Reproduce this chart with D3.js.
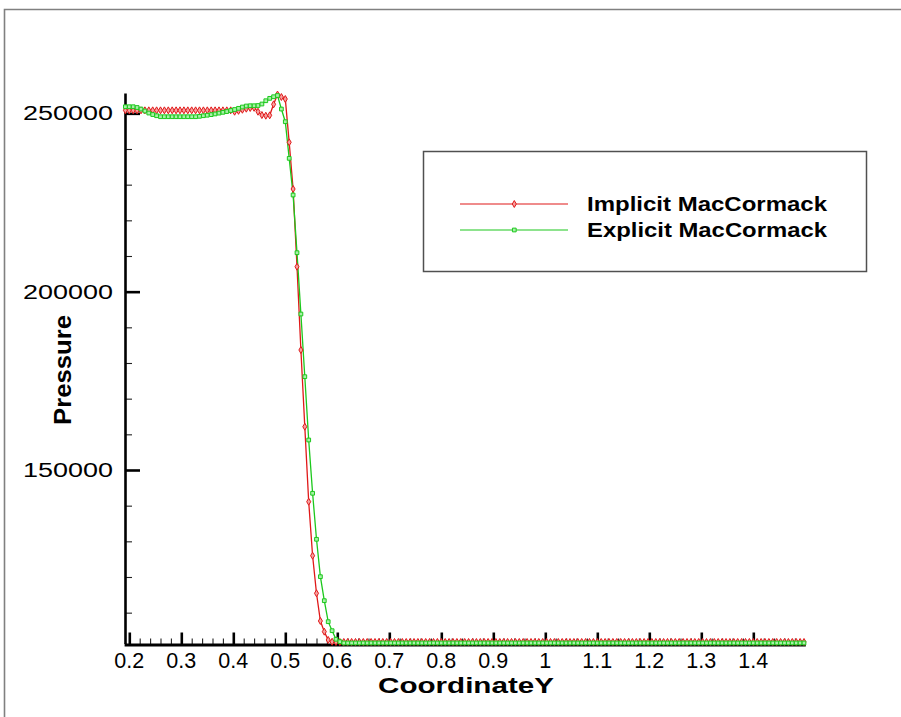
<!DOCTYPE html>
<html>
<head>
<meta charset="utf-8">
<script src="https://cdn.jsdelivr.net/npm/d3@7"></script>
<style>
  body { margin: 0; background: #fff; }
  text { font-family: "Liberation Sans", Arial, Helvetica, sans-serif; fill: #000; }
</style>
</head>
<body>
<script>
// ---- data ----
const xStart = 0.1925;   // first grid point (CoordinateY)
const xStep = 0.0075;    // grid spacing
const seriesNames = ["Implicit MacCormack", "Explicit MacCormack"];
const implicitP = [
  250840,250840,250840,250840,250840,250840,250840,250840,250840,250840,
  250840,250840,250840,250840,250840,250840,250840,250840,250840,250840,
  250840,250840,250840,250840,250840,250840,250840,250840,250450,250700,
  251000,251300,251500,251550,250450,249520,249330,249440,252520,255270,
  254570,254010,241870,228780,206990,183640,162140,141110,125970,115430,
  107670,104670,102340,101850,101780,101780,101780,101780,101780,101780,
  101780,101780,101780,101780,101780,101780,101780,101780,101780,101780,
  101780,101780,101780,101780,101780,101780,101780,101780,101780,101780,
  101780,101780,101780,101780,101780,101780,101780,101780,101780,101780,
  101780,101780,101780,101780,101780,101780,101780,101780,101780,101780,
  101780,101780,101780,101780,101780,101780,101780,101780,101780,101780,
  101780,101780,101780,101780,101780,101780,101780,101780,101780,101780,
  101780,101780,101780,101780,101780,101780,101780,101780,101780,101780,
  101780,101780,101780,101780,101780,101780,101780,101780,101780,101780,
  101780,101780,101780,101780,101780,101780,101780,101780,101780,101780,
  101780,101780,101780,101780,101780,101780,101780,101780,101780,101780,
  101780,101780,101780,101780,101780,101780,101780,101780,101780,101780,
  101780,101780,101780,101780,101780
];
const explicitP = [
  251850,251850,251850,251630,251200,250650,250080,249660,249330,249050,
  249050,249050,249050,249050,249050,249050,249050,249050,249050,249160,
  249330,249470,249640,249830,250060,250280,250500,250790,251070,251400,
  251770,252050,252130,252130,252190,252610,253530,254200,254650,254990,
  251200,247650,237380,227100,210920,193730,176160,158410,143470,130570,
  120090,113360,107470,104950,102540,101860,101500,101500,101500,101500,
  101500,101500,101500,101500,101500,101500,101500,101500,101500,101500,
  101500,101500,101500,101500,101500,101500,101500,101500,101500,101500,
  101500,101500,101500,101500,101500,101500,101500,101500,101500,101500,
  101500,101500,101500,101500,101500,101500,101500,101500,101500,101500,
  101500,101500,101500,101500,101500,101500,101500,101500,101500,101500,
  101500,101500,101500,101500,101500,101500,101500,101500,101500,101500,
  101500,101500,101500,101500,101500,101500,101500,101500,101500,101500,
  101500,101500,101500,101500,101500,101500,101500,101500,101500,101500,
  101500,101500,101500,101500,101500,101500,101500,101500,101500,101500,
  101500,101500,101500,101500,101500,101500,101500,101500,101500,101500,
  101500,101500,101500,101500,101500,101500,101500,101500,101500,101500,
  101500,101500,101500,101500,101500
];
const xMajorTicks = [0.2,0.3,0.4,0.5,0.6,0.7,0.8,0.9,1.0,1.1,1.2,1.3,1.4];
const xTickLabels = ["0.2","0.3","0.4","0.5","0.6","0.7","0.8","0.9","1","1.1","1.2","1.3","1.4"];
const yMajorTicks = [150000,200000,250000];
const yTickLabels = ["150000","200000","250000"];
const xTitle = "CoordinateY";
const yTitle = "Pressure";

// ---- drawing ----
const W = 901, H = 717;
const svg = d3.select("body").append("svg").attr("width", W).attr("height", H);
svg.append("rect").attr("width", W).attr("height", H).attr("fill", "#fff");

// outer frame
svg.append("path").attr("d", "M4.5,717 V9.5 H901")
  .attr("fill", "none").attr("stroke", "#808080").attr("stroke-width", 1.6);

const x = d3.scaleLinear().domain([0.19, 1.5]).range([124.1, 805.3]);
const y = d3.scaleLinear().domain([101325, 255700]).range([643.6, 93]);

const isMajorX = v => xMajorTicks.some(m => Math.abs(m - v) < 1e-6);
const xMinor = d3.range(0, 65).map(i => +(0.2 + i * 0.02).toFixed(2)).filter(v => v < 1.5 && !isMajorX(v));
const yMinor = d3.range(110000, 255001, 10000).filter(v => !yMajorTicks.includes(v));

// x axis
const gxMinor = svg.append("g").attr("transform", "translate(0,644.5)")
  .call(d3.axisTop(x).tickValues(xMinor).tickSize(6).tickSizeOuter(0).tickFormat(""));
gxMinor.select(".domain").remove();
gxMinor.selectAll(".tick line").attr("stroke", "#222").attr("stroke-width", 1.1);
const gxMajor = svg.append("g").attr("transform", "translate(0,644.5)")
  .call(d3.axisTop(x).tickValues(xMajorTicks).tickSize(12).tickSizeOuter(0).tickFormat(""));
gxMajor.select(".domain").attr("stroke", "#000").attr("stroke-width", 3);
gxMajor.selectAll(".tick line").attr("stroke", "#000").attr("stroke-width", 2.6);

// y axis
const gyMinor = svg.append("g").attr("transform", "translate(125,0)")
  .call(d3.axisRight(y).tickValues(yMinor).tickSize(7).tickSizeOuter(0).tickFormat(""));
gyMinor.select(".domain").remove();
gyMinor.selectAll(".tick line").attr("stroke", "#222").attr("stroke-width", 1.1);
const gyMajor = svg.append("g").attr("transform", "translate(125,0)")
  .call(d3.axisRight(y).tickValues(yMajorTicks).tickSize(15).tickSizeOuter(0).tickFormat(""));
gyMajor.select(".domain").attr("stroke", "#000").attr("stroke-width", 2.6);
gyMajor.selectAll(".tick line").attr("stroke", "#000").attr("stroke-width", 2.6);

// tick labels
svg.append("g").selectAll("text").data(xMajorTicks).join("text")
  .attr("x", d => x(d)).attr("y", 667.5)
  .attr("text-anchor", "middle").attr("font-size", 21.5)
  .text((d, i) => xTickLabels[i]);
svg.append("g").selectAll("text").data(yMajorTicks).join("text")
  .attr("x", 113).attr("y", d => y(d) + 7)
  .attr("text-anchor", "end").attr("font-size", 19.5)
  .attr("textLength", 90).attr("lengthAdjust", "spacingAndGlyphs")
  .text((d, i) => yTickLabels[i]);

// axis titles
svg.append("text").attr("x", 466).attr("y", 692.5)
  .attr("text-anchor", "middle").attr("font-size", 21.5).attr("font-weight", "bold")
  .attr("textLength", 176).attr("lengthAdjust", "spacingAndGlyphs")
  .text(xTitle);
svg.append("text").attr("transform", "translate(71,370) rotate(-90)")
  .attr("text-anchor", "middle").attr("font-size", 24).attr("font-weight", "bold")
  .attr("textLength", 110).attr("lengthAdjust", "spacingAndGlyphs")
  .text(yTitle);

// series
const red = "#e01818", green = "#1cc81c";
const ptsOf = arr => arr.map((v, i) => [xStart + i * xStep, v]);
const line = d3.line().x(d => x(d[0])).y(d => y(d[1]));
const implicitPts = ptsOf(implicitP);
const explicitPts = ptsOf(explicitP);

svg.append("path").datum(implicitPts).attr("d", line)
  .attr("fill", "none").attr("stroke", red).attr("stroke-width", 1.3);
svg.append("path").datum(explicitPts).attr("d", line)
  .attr("fill", "none").attr("stroke", green).attr("stroke-width", 1.3);

const diamond = d3.symbol().type(d3.symbolDiamond).size(14);
const square = d3.symbol().type(d3.symbolSquare).size(14);

svg.append("g").selectAll("path").data(implicitPts).join("path")
  .attr("d", diamond)
  .attr("transform", d => `translate(${x(d[0])},${y(d[1])})`)
  .attr("fill", "#f6a0a0").attr("stroke", red).attr("stroke-width", 1);
svg.append("g").selectAll("path").data(explicitPts).join("path")
  .attr("d", square)
  .attr("transform", d => `translate(${x(d[0])},${y(d[1])})`)
  .attr("fill", "#a8f0a8").attr("stroke", green).attr("stroke-width", 1);

// legend
const lg = svg.append("g");
lg.append("rect").attr("x", 423.5).attr("y", 151.5).attr("width", 443).attr("height", 120)
  .attr("fill", "#fff").attr("stroke", "#505050").attr("stroke-width", 1.5);
const legendRows = [
  { name: seriesNames[0], color: red, sym: diamond, fill: "#f6a0a0", ly: 204, ty: 211 },
  { name: seriesNames[1], color: green, sym: square, fill: "#a8f0a8", ly: 230, ty: 236.5 }
];
legendRows.forEach(r => {
  lg.append("line").attr("x1", 460).attr("x2", 568).attr("y1", r.ly).attr("y2", r.ly)
    .attr("stroke", r.color).attr("stroke-width", 1.2);
  lg.append("path").attr("d", r.sym).attr("transform", `translate(514.3,${r.ly})`)
    .attr("fill", r.fill).attr("stroke", r.color).attr("stroke-width", 1);
  lg.append("text").attr("x", 587).attr("y", r.ty)
    .attr("font-size", 21).attr("font-weight", "bold")
    .attr("textLength", 240).attr("lengthAdjust", "spacingAndGlyphs")
    .text(r.name);
});
</script>
</body>
</html>
